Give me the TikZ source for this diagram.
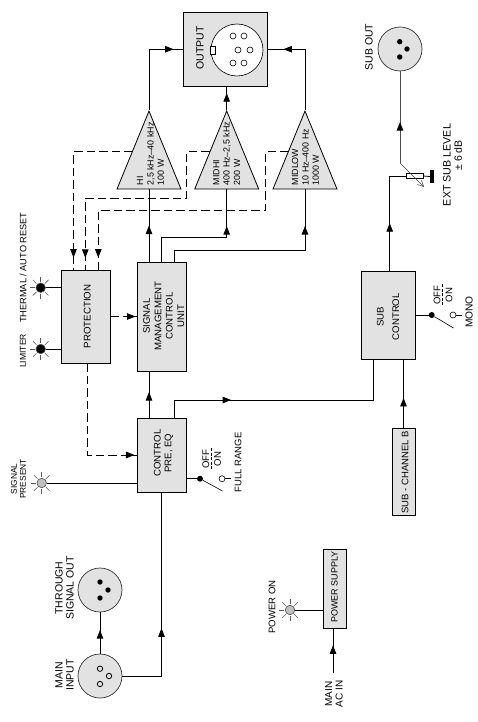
\documentclass[tikz,border=0pt]{standalone}
\usepackage{fontspec}
\setmainfont{Liberation Sans}
\usetikzlibrary{arrows.meta,calc,decorations.markings,shapes.geometric}
\definecolor{boxgray}{HTML}{E2E2E2}
\tikzset{
  wire/.style={line width=0.8pt},
  dashwire/.style={line width=0.8pt,dash pattern=on 8.5pt off 4pt},
  headat/.style={postaction={decorate},decoration={markings,mark=at position #1 with {\arrow{Triangle[length=8.5pt,width=6.5pt,color=black]}}}},
  block/.style={draw,line width=0.8pt,fill=boxgray,inner sep=0pt,align=center,font=\fontsize{9.6}{17}\selectfont},
  amp/.style={draw,line width=0.8pt,fill=boxgray,isosceles triangle,isosceles triangle stretches,shape border rotate=90,minimum width=64pt,minimum height=78pt,inner sep=0pt,anchor=apex},
  ampinfo/.style={rotate=90,anchor=west,align=left,inner sep=0pt,font=\fontsize{8.9}{10.4}\selectfont},
  plug/.style={circle,draw=black!80,line width=0.7pt,fill=boxgray,minimum size=44pt,inner sep=0pt},
  pinblack/.style={circle,fill=black,minimum size=5.4pt,inner sep=0pt},
  pinopen/.style={circle,draw,line width=0.8pt,fill=boxgray,minimum size=5.4pt,inner sep=0pt},
  lamp/.style={circle,draw=black!70,line width=0.6pt,minimum size=9.5pt,inner sep=0pt},
  ray/.style={line width=0.6pt,draw=black!65},
  lbl/.style={rotate=90,align=center,inner sep=0pt,font=\fontsize{10.5}{11}\selectfont},
  lblsmall/.style={rotate=90,align=center,inner sep=0pt,font=\fontsize{8.4}{9.2}\selectfont},
  contact/.style={circle,fill=black,minimum size=6pt,inner sep=0pt},
  opencontact/.style={circle,draw,line width=0.6pt,fill=white,minimum size=6pt,inner sep=0pt},
}
\begin{document}
\begin{tikzpicture}[x=1pt,y=-1pt]
\useasboundingbox (0,0) rectangle (478,722);
% blocks
\node[block,minimum width=83.5pt,minimum height=73.5pt] (out) at (225.25,49.25) {};
\node[block,minimum width=49pt,minimum height=109pt] (smcu) at (161.5,316.5) {};
\node[block,minimum width=49pt,minimum height=93pt] (prot) at (85.5,316.5) {};
\node[block,minimum width=49pt,minimum height=74pt] (ctrl) at (161.5,455) {};
\node[block,minimum width=54pt,minimum height=88pt] (subctrl) at (388,315) {};
\node[block,minimum width=23pt,minimum height=87pt] (subb) at (403.5,471.5) {};
\node[block,minimum width=23pt,minimum height=79pt] (psu) at (334.5,588.5) {};
\node[rotate=90,inner sep=0pt,font=\fontsize{10.5}{12}\selectfont] (outtxt) at (200,48) {OUTPUT};
\node[rotate=90,align=center,inner sep=0pt,font=\fontsize{9.6}{11.4}\selectfont] (smcutxt) at (163.7,316) {SIGNAL\\MANAGEMENT\\CONTROL\\UNIT};
\node[rotate=90,inner sep=0pt,font=\fontsize{9.7}{11}\selectfont] (prottxt) at (87.3,316.5) {PROTECTION};
\node[rotate=90,align=center,inner sep=0pt,font=\fontsize{9.6}{10.8}\selectfont] (ctrltxt) at (163.5,453) {CONTROL\\PRE, EQ};
\node[rotate=90,align=center,inner sep=0pt,font=\fontsize{9.6}{15.5}\selectfont] (subtxt) at (388,316.7) {SUB\\CONTROL};
\node[rotate=90,inner sep=0pt,font=\fontsize{9.5}{11}\selectfont] (subbtxt) at (405,472.5) {SUB - CHANNEL B};
\node[rotate=90,inner sep=0pt,font=\fontsize{9}{11}\selectfont] (psutxt) at (334.5,587) {POWER SUPPLY};
% output socket
\node[circle,draw,line width=0.6pt,fill=white,minimum size=52pt,inner sep=0pt] (socket) at (237,50) {};
\node[draw,line width=0.6pt,fill=white,minimum width=5.5pt,minimum height=8pt,inner sep=0pt] (key) at (213,50) {};
\foreach \x/\y [count=\n] in {233/36,244/36,238/50,250/50,233/63,244/63}
  \node[pinopen,fill=white,minimum size=6pt,line width=0.6pt] (hole\n) at (\x,\y) {};
% amplifiers
\node[amp] (hi) at (149,110) {};
\node[amp] (midhi) at (226.7,110) {};
\node[amp] (midlow) at (305,110) {};
\node[ampinfo] (hitxt) at (150.5,185.5) {HI\\2,5 kHz--40 kHz\\100 W};
\node[ampinfo] (midhitxt) at (226.7,185.5) {MIDHI\\400 Hz--2,5 kHz\\200 W};
\node[ampinfo] (midlowtxt) at (305.5,185.5) {MIDLOW\\10 Hz--400 Hz\\1000 W};
% signal path
\draw[wire,headat=0.9] (hi.apex) |- (out.west);
\draw[wire,headat=0.71] (midhi.apex) -- (midhi.apex |- out.south);
\draw[wire,headat=0.837] (midlow.apex) |- (out.east);
\draw[wire,headat=0.5] (smcu.north -| hi.apex) -- (hi.lower side);
\draw[wire,headat=0.733] (smcu.north) |- (226.7,237) -- (midhi.lower side);
\draw[wire,headat=0.82] ([xshift=12.5pt]smcu.north) |- (305,250) -- (midlow.lower side);
\draw[wire,headat=0.553] (ctrl.north -| hi.apex) -- (smcu.south -| hi.apex);
\draw[wire,headat=0.29] ([xshift=12.5pt]ctrl.north) |- (373,400) -- (373,359);
% sub path
\node[draw,line width=0.6pt,fill=white,minimum width=17pt,minimum height=5pt,inner sep=0pt] (trim) at (414.5,176) {};
\node[fill=black,minimum width=4pt,minimum height=13pt,inner sep=0pt] (trimend) at (432,176.5) {};
\node[plug] (subout) at (400,49) {};
\foreach \y/\x [count=\n] in {41.7/399.7,49/407,57/399.7}
  \node[pinblack] (subpin\n) at (\x,\y) {};
\coordinate (wipera) at (400,163);
\coordinate (wiperb) at (424,187);
\draw[wire,headat=0.431] (389.7,271) |- (trim.west);
\draw[wire] (trim.east) -- (trimend.west);
\draw[wire,draw=black!70,headat=0.446] (wipera) -- (subout.south);
\draw[line width=0.5pt,draw=black!75,-{Straight Barb[length=6pt,width=6pt]}] (wipera) -- (wiperb);
\draw[wire,headat=0.435] (subb.north) -- (subb.north |- subctrl.south);
% dashed paths
\coordinate (hifb) at (132.5,151.7);
\coordinate (midhifb) at (209.8,151.7);
\coordinate (midlowfb) at (288.5,151.7);
\draw[dashwire,headat=0.93] (hifb) -- (73.5,151.7) -- (73.5,270);
\draw[dashwire,headat=0.95] (midhifb) -- (186.7,151.7) -- (186.7,198.3) -- (85.3,198.3) -- (85.3,270);
\draw[dashwire,headat=0.96] (midlowfb) -- (265.7,151.7) -- (265.7,210.3) -- (98.3,210.3) -- (98.3,270);
\draw[dashwire,headat=0.96] (prot.east) -- (prot.east -| smcu.west);
\draw[dashwire,headat=0.985] (87.7,363) |- (ctrl.west |- 0,455);
% lamps
\node[lamp,fill=black] (thermal) at (40.7,287.7) {};
\node[lamp,fill=black] (limiter) at (40.7,349) {};
\node[lamp,fill=black!25] (present) at (41.7,483) {};
\node[lamp,fill=black!25] (poweron) at (290,610) {};
\foreach \l in {thermal,limiter,present,poweron}
  \foreach \a in {45,90,135,180,225,270,315}
    \draw[ray] (\l) ++(\a:6) -- ++(\a:5);
\draw[wire] (thermal) -- (thermal -| prot.west);
\draw[wire] (limiter) -- (limiter -| prot.west);
\draw[wire] (present) -- (present -| ctrl.west);
\draw[wire] (poweron) -- (poweron -| psu.west);
% inputs
\node[plug] (mainin) at (100,676) {};
\node[plug] (through) at (100,590) {};
\foreach \y/\x [count=\n] in {668.7/100,676/109,684/100}
  \node[pinopen] (inpin\n) at (\x,\y) {};
\foreach \y/\x [count=\n] in {582/100,590/108,598/100}
  \node[pinblack] (thrpin\n) at (\x,\y) {};
\draw[wire,headat=0.571] (mainin.north) -- (through.south);
\draw[wire,headat=0.39] (mainin.east) -| (ctrl.south);
\coordinate (acin) at (333,673);
\draw[wire,headat=0.62] (acin) -- (acin |- psu.south);
% switches
\node[contact] (fulldot) at (200,478.7) {};
\node[opencontact] (fullopen) at (222,478.7) {};
\coordinate (fullarm) at (222.5,491);
\coordinate (fullend) at (230.7,478.7);
\draw[wire] (fulldot -| ctrl.east) -- (fulldot);
\draw[line width=0.6pt] (fulldot) -- (fullarm);
\draw[line width=0.6pt] (fullopen) -- (fullend);
\node[contact] (monodot) at (431.7,315) {};
\node[opencontact] (monoopen) at (453,315) {};
\coordinate (monoarm) at (453.5,328);
\coordinate (monoend) at (461.6,315);
\draw[wire] (monodot -| subctrl.east) -- (monodot);
\draw[line width=0.6pt] (monodot) -- (monoarm);
\draw[line width=0.6pt] (monoopen) -- (monoend);
\coordinate (fulldasha) at (211.7,448);
\coordinate (fulldashb) at (211.7,470);
\draw[line width=0.6pt,dash pattern=on 3pt off 1.5pt] (fulldasha) -- (fulldashb);
\coordinate (monodasha) at (442.5,284);
\coordinate (monodashb) at (442.5,306);
\draw[line width=0.6pt,dash pattern=on 3pt off 1.5pt] (monodasha) -- (monodashb);
% labels
\node[lbl,font=\fontsize{9.6}{11}\selectfont] (offa) at (205.7,459) {OFF};
\node[lbl,font=\fontsize{9.6}{11}\selectfont] (ona) at (217.5,459) {ON};
\node[lbl,font=\fontsize{9.5}{11}\selectfont,anchor=west] (fullrange) at (238,492.3) {FULL RANGE};
\node[lbl,font=\fontsize{9.6}{11}\selectfont] (offb) at (437,295) {OFF};
\node[lbl,font=\fontsize{9.6}{11}\selectfont] (onb) at (449,295) {ON};
\node[lbl,font=\fontsize{10.2}{11}\selectfont] (mono) at (469,312) {MONO};
\node[lbl] (subouttxt) at (369,47) {SUB OUT};
\node[lbl,font=\fontsize{10.7}{11}\selectfont] (extlevel) at (447,165) {EXT SUB LEVEL};
\node[lbl] (extdb) at (458,155.5) {± 6 dB};
\node[lbl,font=\fontsize{9.2}{11}\selectfont,anchor=west] (thermaltxt) at (23,323) {THERMAL / AUTO RESET};
\node[lbl,font=\fontsize{8.6}{11}\selectfont] (limitertxt) at (23,351) {LIMITER};
\node[lblsmall] (presenttxt) at (18.5,479) {SIGNAL\\PRESENT};
\node[lbl] (throughtxt) at (64.5,588) {THROUGH\\SIGNAL OUT};
\node[lbl] (maintxt) at (64.5,675) {MAIN\\INPUT};
\node[lbl,font=\fontsize{9.6}{11}\selectfont] (powerontxt) at (272,607) {POWER ON};
\node[lbl,font=\fontsize{10}{10.5}\selectfont] (actxt) at (334,694) {MAIN\\AC IN};
\end{tikzpicture}
\end{document}
